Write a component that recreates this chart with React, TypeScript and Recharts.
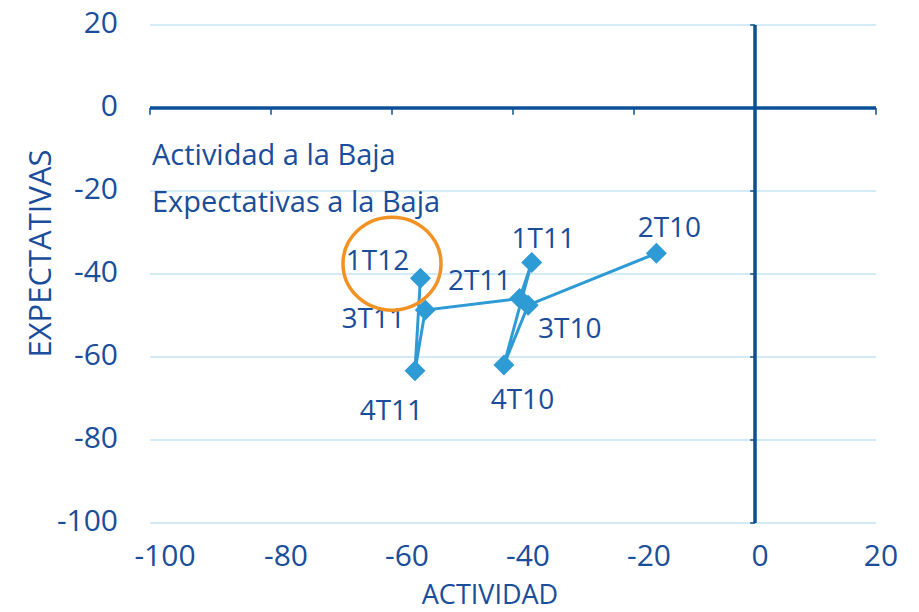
import React from 'react';
import { ScatterChart, Scatter, XAxis, YAxis, CartesianGrid, ReferenceLine, ReferenceDot, Label } from 'recharts';

// ---- data ----
const QUARTERS = ['2T10', '3T10', '4T10', '1T11', '2T11', '3T11', '4T11', '1T12'];
const ACTIVIDAD = [-16.3, -37.5, -41.5, -36.9, -38.9, -54.5, -56.2, -55.3];
const EXPECTATIVAS = [-35.0, -47.5, -61.9, -37.2, -45.9, -48.7, -63.3, -41.0];
const X_TICKS = [-100, -80, -60, -40, -20, 0, 20];
const Y_TICKS = [-100, -80, -60, -40, -20, 0, 20];
const NOTES = ['Actividad a la Baja', 'Expectativas a la Baja'];
const X_TITLE = 'ACTIVIDAD';
const Y_TITLE = 'EXPECTATIVAS';
const HIGHLIGHT_X = -60;
const HIGHLIGHT_Y = -37.5;

// ---- layout / style ----
const LABEL_OFFSETS: Record<string, [number, number]> = {
  '2T10': [13, -16],
  '1T12': [-43, -8],
  '1T11': [11.5, -14.6],
  '2T11': [-40, -8.3],
  '3T10': [41.7, 33.3],
  '3T11': [-52, 18.3],
  '4T10': [18.5, 44.3],
  '4T11': [-23.6, 49],
};
const FONT = '"Open Sans", sans-serif';
const TEXT = '#1a4d9a';
const SERIES = '#2f9bd5';
const AXIS = '#0b4f96';
const GRID = '#c3e5f5';
const ORANGE = '#f39224';

const data = QUARTERS.map((q, i) => ({ label: q, x: ACTIVIDAD[i], y: EXPECTATIVAS[i] }));

const XTick = (props: any) => {
  const { x, y, payload } = props;
  const v = payload.value;
  const dx = v < 0 ? 15 : 5;
  return (
    <text x={x + dx} y={y + 43} textAnchor="middle" fill={TEXT} fontFamily={FONT} fontSize={30}>
      {v}
    </text>
  );
};

const YTick = (props: any) => {
  const { x, y, payload } = props;
  return (
    <text x={x - 32} y={y + 8} textAnchor="end" fill={TEXT} fontFamily={FONT} fontSize={30}>
      {payload.value}
    </text>
  );
};

const Diamond = (props: any) => {
  const { cx, cy } = props;
  const r = 10.5;
  return (
    <polygon
      points={`${cx},${cy - r} ${cx + r},${cy} ${cx},${cy + r} ${cx - r},${cy}`}
      fill={SERIES}
    />
  );
};

const PointLabel = (props: any) => {
  const { cx, cy, payload } = props;
  const off = LABEL_OFFSETS[payload.label] || [0, -15];
  return (
    <text x={cx + off[0]} y={cy + off[1]} textAnchor="middle" fill={TEXT} fontFamily={FONT} fontSize={28}>
      {payload.label}
    </text>
  );
};

const Ring = (props: any) => {
  const { cx, cy } = props;
  return <ellipse cx={cx} cy={cy} rx={49} ry={46.5} fill="none" stroke={ORANGE} strokeWidth={3.5} />;
};

export default function App() {
  return (
    <div style={{ position: 'absolute', left: 0, top: 0, width: 919, height: 612, background: '#fff' }}>
      <ScatterChart width={919} height={612} margin={{ top: 25, right: 43, bottom: 0, left: 0 }}>
        <CartesianGrid vertical={false} stroke={GRID} strokeWidth={1.5} />
        <XAxis
          type="number"
          dataKey="x"
          domain={[-100, 20]}
          ticks={X_TICKS}
          axisLine={false}
          tickLine={false}
          tickSize={0}
          tickMargin={0}
          height={89}
          tick={<XTick />}
          interval={0}
        >
          <Label
            content={(p: any) => {
              const vb = p.viewBox;
              return (
                <text x={vb.x + vb.width / 2 - 23} y={vb.y + 81} textAnchor="middle" fill={TEXT} fontFamily={FONT} fontSize={27}>
                  {X_TITLE}
                </text>
              );
            }}
          />
        </XAxis>
        <YAxis
          type="number"
          dataKey="y"
          domain={[-100, 20]}
          ticks={Y_TICKS}
          axisLine={false}
          tickLine={false}
          tickSize={0}
          tickMargin={0}
          width={150}
          tick={<YTick />}
          interval={0}
        >
          <Label
            content={() => (
              <text
                x={51}
                y={253.5}
                transform="rotate(-90, 51, 253.5)"
                textAnchor="middle"
                fill={TEXT}
                fontFamily={FONT}
                fontSize={31}
              >
                {Y_TITLE}
              </text>
            )}
          />
        </YAxis>
        <ReferenceLine y={0} stroke={AXIS} strokeWidth={3.5} />
        <ReferenceLine x={0} stroke={AXIS} strokeWidth={3.5} />
        {X_TICKS.map((v) => (
          <ReferenceLine
            key={'xt' + v}
            segment={[{ x: v, y: 0 }, { x: v, y: -1.6 }]}
            stroke={AXIS}
            strokeWidth={1.5}
            ifOverflow="visible"
          />
        ))}
        {Y_TICKS.map((v) => (
          <ReferenceLine
            key={'yt' + v}
            segment={[{ x: 0, y: v }, { x: -0.8, y: v }]}
            stroke={AXIS}
            strokeWidth={1.5}
            ifOverflow="visible"
          />
        ))}
        <Scatter data={data} shape={<PointLabel />} isAnimationActive={false} />
        <Scatter
          data={data}
          shape={<Diamond />}
          line={{ stroke: SERIES, strokeWidth: 3 }}
          lineType="joint"
          isAnimationActive={false}
        />
        <ReferenceDot x={HIGHLIGHT_X} y={HIGHLIGHT_Y} r={47} shape={<Ring />} ifOverflow="visible" />
        <text x={152} y={165} fill={TEXT} fontFamily={FONT} fontSize={29}>
          {NOTES[0]}
        </text>
        <text x={152} y={212} fill={TEXT} fontFamily={FONT} fontSize={29}>
          {NOTES[1]}
        </text>
      </ScatterChart>
    </div>
  );
}
